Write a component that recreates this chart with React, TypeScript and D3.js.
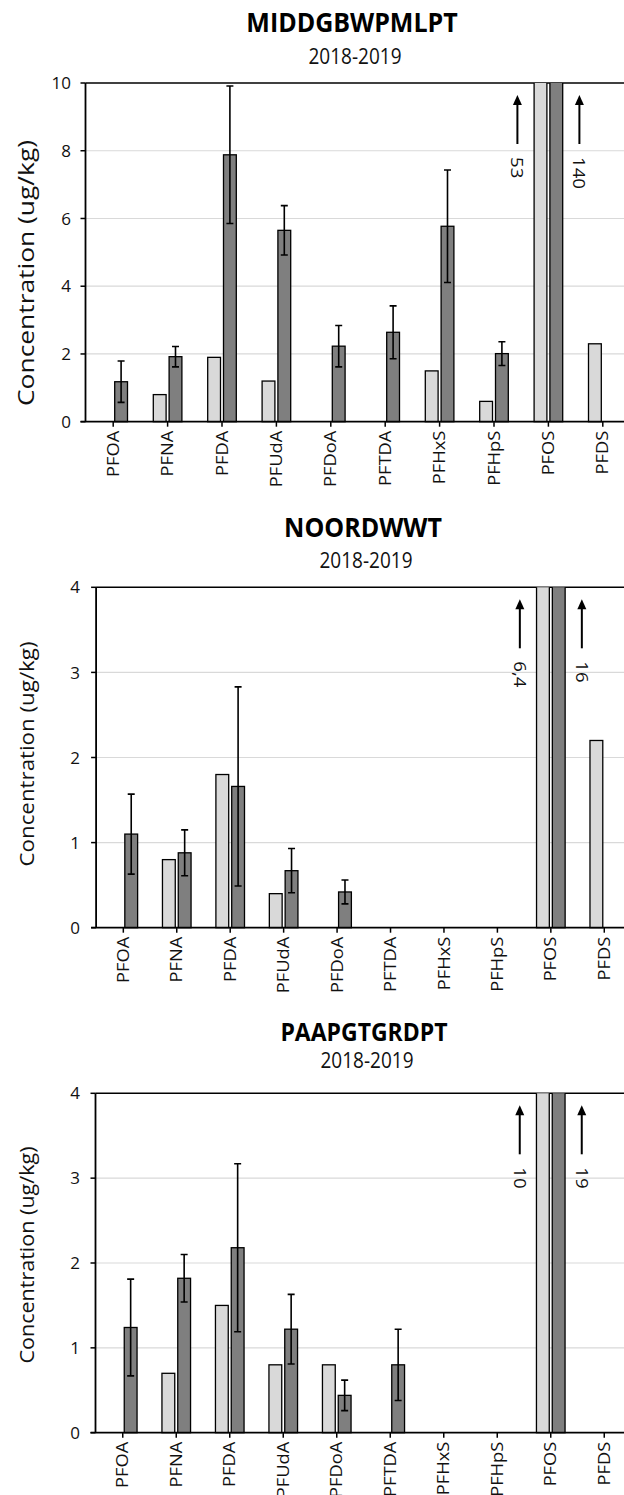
import React from "react";
import * as d3 from "d3";

const categories = ["PFOA", "PFNA", "PFDA", "PFUdA", "PFDoA", "PFTDA", "PFHxS", "PFHpS", "PFOS", "PFDS"];
const subtitle = "2018-2019";
const yAxisLabel = "Concentration (ug/kg)";

// Panel 1: MIDDGBWPMLPT
const p1Title = "MIDDGBWPMLPT";
const p1Light = [null, 0.8, 1.9, 1.2, null, null, 1.5, 0.6, 53, 2.3];
const p1Dark = [1.18, 1.92, 7.88, 5.65, 2.23, 2.64, 5.77, 2.01, 140, null];
const p1Err = [0.61, 0.3, 2.03, 0.73, 0.61, 0.78, 1.66, 0.35, null, null];
const p1Ticks = [0, 2, 4, 6, 8, 10];

// Panel 2: NOORDWWT
const p2Title = "NOORDWWT";
const p2Light = [null, 0.8, 1.8, 0.4, null, null, null, null, 6.4, 2.2];
const p2Dark = [1.1, 0.88, 1.66, 0.67, 0.42, null, null, null, 16, null];
const p2Err = [0.47, 0.27, 1.17, 0.26, 0.14, null, null, null, null, null];
const p2Ticks = [0, 1, 2, 3, 4];

// Panel 3: PAAPGTGRDPT
const p3Title = "PAAPGTGRDPT";
const p3Light = [null, 0.7, 1.5, 0.8, 0.8, null, null, null, 10, null];
const p3Dark = [1.24, 1.82, 2.18, 1.22, 0.44, 0.8, null, null, 19, null];
const p3Err = [0.57, 0.28, 0.99, 0.41, 0.18, 0.42, null, null, null, null];
const p3Ticks = [0, 1, 2, 3, 4];

const FONT = "'Open Sans', 'Noto Sans', sans-serif";
const LIGHT = "#d9d9d9";
const DARK = "#7f7f7f";
const GRID = "#d9d9d9";
const TEXT = "#111";

type Panel = {
  id: string;
  title: string;
  light: (number | null)[];
  dark: (number | null)[];
  err: (number | null)[];
  ticks: number[];
  top: number;
  bottom: number;
  left: number;
  right: number;
  titleX: number;
  titleY: number;
  subY: number;
  titleSize: number;
  axisTitleX: number;
  axisTitleY: number;
  axisTitleSize: number;
  axisTitleLen: number;
  tickLabelX: number;
};

const panels: Panel[] = [
  {
    id: "p1", title: p1Title, light: p1Light, dark: p1Dark, err: p1Err, ticks: p1Ticks,
    top: 83, bottom: 421.7, left: 86, right: 630,
    titleX: 352, titleY: 31.5, subY: 64, titleSize: 25,
    axisTitleX: 26, axisTitleY: 273, axisTitleSize: 22, axisTitleLen: 266, tickLabelX: 71,
  },
  {
    id: "p2", title: p2Title, light: p2Light, dark: p2Dark, err: p2Err, ticks: p2Ticks,
    top: 587.3, bottom: 927.7, left: 96.6, right: 631,
    titleX: 363, titleY: 536.5, subY: 567.5, titleSize: 25,
    axisTitleX: 27, axisTitleY: 754, axisTitleSize: 20, axisTitleLen: 225, tickLabelX: 80,
  },
  {
    id: "p3", title: p3Title, light: p3Light, dark: p3Dark, err: p3Err, ticks: p3Ticks,
    top: 1093.3, bottom: 1432.7, left: 96, right: 631,
    titleX: 364, titleY: 1040.5, subY: 1068, titleSize: 23,
    axisTitleX: 27, axisTitleY: 1255, axisTitleSize: 20, axisTitleLen: 217, tickLabelX: 80,
  },
];

const BAR_W = 12.8;
const GAP = 1.5;

function fmt(v: number) {
  return String(v).replace(".", ",");
}

function ChartPanel({ p }: { p: Panel }) {
  const x = d3.scaleBand<string>().domain(categories).range([p.left, p.right]).paddingInner(0).paddingOuter(0);
  const yMax = p.ticks[p.ticks.length - 1];
  const y = d3.scaleLinear().domain([0, yMax]).range([p.bottom, p.top]);
  const cx = (c: string) => (x(c) as number) + x.bandwidth() / 2;
  const clipId = `clip-${p.id}`;
  const overflow: { c: string; v: number; side: number }[] = [];
  categories.forEach((c, i) => {
    const l = p.light[i];
    const d = p.dark[i];
    if (l != null && l > yMax) overflow.push({ c, v: l, side: -1 });
    if (d != null && d > yMax) overflow.push({ c, v: d, side: 1 });
  });
  const axisLeft = p.left - 0.5;
  return (
    <g>
      <defs>
        <clipPath id={clipId}>
          <rect x={p.left - 10} y={p.top} width={p.right - p.left + 20} height={p.bottom - p.top + 5} />
        </clipPath>
      </defs>
      {/* titles */}
      <text
        transform={`translate(${p.titleX},${p.titleY}) scale(1,1.08)`}
        textAnchor="middle" fontFamily={FONT} fontWeight={700} fontSize={p.titleSize} fill="#000"
      >
        {p.title}
      </text>
      <text
        transform={`translate(${p.titleX + 3},${p.subY}) scale(1,1.15)`}
        textAnchor="middle" fontFamily={FONT} fontSize={19} fill={TEXT}
      >
        {subtitle}
      </text>
      {/* gridlines */}
      {p.ticks.filter((t) => t > 0 && t < yMax).map((t) => (
        <line key={`g${t}`} x1={axisLeft} x2={p.right} y1={y(t)} y2={y(t)} stroke={GRID} strokeWidth={1.2} />
      ))}
      {/* top frame */}
      <line x1={axisLeft} x2={p.right} y1={p.top} y2={p.top} stroke="#000" strokeWidth={1.6} />
      {/* y ticks & labels */}
      {p.ticks.map((t) => (
        <g key={`t${t}`}>
          <line x1={axisLeft - 5} x2={axisLeft} y1={y(t)} y2={y(t)} stroke="#000" strokeWidth={1.5} />
          <text x={p.tickLabelX} y={y(t)} dy="0.36em" textAnchor="end" fontFamily={FONT} fontSize={17} fill={TEXT}>
            {t}
          </text>
        </g>
      ))}
      {/* y axis title */}
      <text
        transform={`translate(${p.axisTitleX},${p.axisTitleY}) rotate(-90)`}
        textAnchor="middle"
        dy="0.35em"
        fontFamily={FONT}
        fontSize={p.axisTitleSize}
        textLength={p.axisTitleLen}
        lengthAdjust="spacingAndGlyphs"
        fill={TEXT}
      >
        {yAxisLabel}
      </text>
      {/* bars */}
      <g clipPath={`url(#${clipId})`}>
        {categories.map((c, i) => {
          const l = p.light[i];
          const d = p.dark[i];
          const e = p.err[i];
          const c0 = cx(c);
          return (
            <g key={c}>
              {l != null && (
                <rect x={c0 - GAP - BAR_W} y={y(l)} width={BAR_W} height={p.bottom - y(l)} fill={LIGHT} stroke="#000" strokeWidth={1.3} />
              )}
              {d != null && (
                <rect x={c0 + GAP} y={y(d)} width={BAR_W} height={p.bottom - y(d)} fill={DARK} stroke="#000" strokeWidth={1.3} />
              )}
              {d != null && e != null && (
                <g stroke="#000" strokeWidth={1.6}>
                  <line x1={c0 + GAP + BAR_W / 2} x2={c0 + GAP + BAR_W / 2} y1={y(d + e)} y2={y(d - e)} />
                  <line x1={c0 + GAP + BAR_W / 2 - 3.5} x2={c0 + GAP + BAR_W / 2 + 3.5} y1={y(d + e)} y2={y(d + e)} />
                  <line x1={c0 + GAP + BAR_W / 2 - 3.5} x2={c0 + GAP + BAR_W / 2 + 3.5} y1={y(d - e)} y2={y(d - e)} />
                </g>
              )}
            </g>
          );
        })}
      </g>
      {/* axes lines */}
      <line x1={axisLeft} x2={axisLeft} y1={p.top} y2={p.bottom} stroke="#000" strokeWidth={1.8} />
      <line x1={axisLeft - 5} x2={p.right} y1={p.bottom} y2={p.bottom} stroke="#000" strokeWidth={1.8} />
      {/* x ticks & labels */}
      {categories.map((c) => (
        <g key={`x${c}`}>
          <line x1={cx(c)} x2={cx(c)} y1={p.bottom} y2={p.bottom + 5} stroke="#000" strokeWidth={1.5} />
          <text
            transform={`translate(${cx(c)},${p.bottom + 9}) rotate(-90) scale(1.18,1)`}
            textAnchor="end"
            dy="0.36em"
            fontFamily={FONT}
            fontSize={15.5}
            fill={TEXT}
          >
            {c}
          </text>
        </g>
      ))}
      {/* overflow arrows */}
      {overflow.map((o) => {
        const ax = cx(o.c) + o.side * 31;
        const tipY = p.top + 12;
        const endY = p.top + 61;
        return (
          <g key={`o${o.c}${o.side}`}>
            <line x1={ax} x2={ax} y1={tipY + 8} y2={endY} stroke="#000" strokeWidth={2} />
            <path d={`M${ax},${tipY} L${ax - 4.5},${tipY + 10} L${ax + 4.5},${tipY + 10} Z`} fill="#000" />
            <text
              transform={`translate(${ax},${p.top + 74}) rotate(90) scale(1.1,1)`}
              dy="0.36em"
              fontFamily={FONT}
              fontSize={17}
              fill={TEXT}
            >
              {fmt(o.v)}
            </text>
          </g>
        );
      })}
    </g>
  );
}

export default function App() {
  return (
    <svg
      width={624}
      height={1495}
      viewBox="0 0 624 1495"
      style={{ position: "absolute", left: 0, top: 0, display: "block", background: "#fff" }}
    >
      <rect x={0} y={0} width={624} height={1495} fill="#fff" />
      {panels.map((p) => (
        <ChartPanel key={p.id} p={p} />
      ))}
    </svg>
  );
}
